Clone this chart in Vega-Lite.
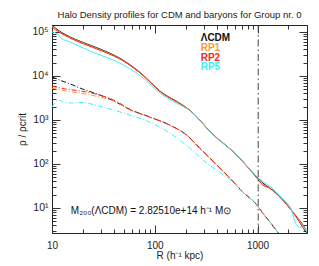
{
  "$schema": "https://vega.github.io/schema/vega-lite/v6.json",
  "width": 255,
  "height": 208,
  "autosize": "none",
  "padding": {"left": 52, "top": 25, "right": 12, "bottom": 33},
  "config": {
    "view": {"stroke": "#222", "strokeWidth": 1},
    "font": "Liberation Sans",
    "axis": {"grid": false, "domain": false, "tickColor": "#333", "labelColor": "#222", "titleColor": "#222", "labelFont": "Liberation Sans", "titleFont": "Liberation Sans", "titleFontWeight": "normal", "labelFlush": false, "labelOverlap": false}
  },
  "title": {"text": "Halo Density profiles for CDM and baryons for Group nr. 0", "fontSize": 9.5, "fontWeight": "normal", "color": "#222", "font": "Liberation Sans", "offset": 5, "anchor": "middle"},
  "datasets": {
    "prof": [
      {"s":"ΛCDM","k":"tot","x":10,"y":144000},{"s":"ΛCDM","k":"tot","x":10.8,"y":123000},{"s":"ΛCDM","k":"tot","x":11.8,"y":105000},{"s":"ΛCDM","k":"tot","x":13.2,"y":90000},{"s":"ΛCDM","k":"tot","x":16.6,"y":69000},{"s":"ΛCDM","k":"tot","x":24.7,"y":48000},{"s":"ΛCDM","k":"tot","x":36.2,"y":33300},{"s":"ΛCDM","k":"tot","x":45.4,"y":25600},{"s":"ΛCDM","k":"tot","x":71.1,"y":12300},{"s":"ΛCDM","k":"tot","x":119,"y":4100},{"s":"ΛCDM","k":"tot","x":167,"y":2570},{"s":"ΛCDM","k":"tot","x":218,"y":1690},{"s":"ΛCDM","k":"tot","x":366,"y":481},{"s":"ΛCDM","k":"tot","x":628,"y":160},{"s":"ΛCDM","k":"tot","x":984,"y":50.7},{"s":"ΛCDM","k":"tot","x":1120,"y":37},{"s":"ΛCDM","k":"tot","x":1318,"y":28.5},{"s":"ΛCDM","k":"tot","x":1766,"y":15.2},{"s":"ΛCDM","k":"tot","x":2420,"y":5.9},{"s":"ΛCDM","k":"tot","x":2958,"y":2.85},{"s":"ΛCDM","k":"tot","x":3100,"y":2.5},
      {"s":"ΛCDM","k":"bar","x":10,"y":9500},{"s":"ΛCDM","k":"bar","x":12,"y":8000},{"s":"ΛCDM","k":"bar","x":15,"y":6600},{"s":"ΛCDM","k":"bar","x":20,"y":5000},{"s":"ΛCDM","k":"bar","x":25,"y":4200},{"s":"ΛCDM","k":"bar","x":30,"y":3600},{"s":"ΛCDM","k":"bar","x":40,"y":2700},{"s":"ΛCDM","k":"bar","x":56.8,"y":1750},{"s":"ΛCDM","k":"bar","x":89,"y":1170},{"s":"ΛCDM","k":"bar","x":139,"y":770},{"s":"ΛCDM","k":"bar","x":204,"y":455},{"s":"ΛCDM","k":"bar","x":273,"y":231},{"s":"ΛCDM","k":"bar","x":401,"y":95},{"s":"ΛCDM","k":"bar","x":537,"y":48},{"s":"ΛCDM","k":"bar","x":720,"y":23},{"s":"ΛCDM","k":"bar","x":985,"y":11.7},{"s":"ΛCDM","k":"bar","x":1120,"y":7.7},{"s":"ΛCDM","k":"bar","x":1300,"y":5.0},{"s":"ΛCDM","k":"bar","x":1600,"y":2.7},{"s":"ΛCDM","k":"bar","x":1700,"y":2.3},
      {"s":"RP1","k":"tot","x":10,"y":137000},{"s":"RP1","k":"tot","x":10.8,"y":118000},{"s":"RP1","k":"tot","x":11.8,"y":101000},{"s":"RP1","k":"tot","x":13.2,"y":87000},{"s":"RP1","k":"tot","x":16.6,"y":67000},{"s":"RP1","k":"tot","x":24.7,"y":46500},{"s":"RP1","k":"tot","x":36.2,"y":32300},{"s":"RP1","k":"tot","x":45.4,"y":25000},{"s":"RP1","k":"tot","x":71.1,"y":12100},{"s":"RP1","k":"tot","x":119,"y":4050},{"s":"RP1","k":"tot","x":167,"y":2550},{"s":"RP1","k":"tot","x":218,"y":1680},{"s":"RP1","k":"tot","x":366,"y":476},{"s":"RP1","k":"tot","x":628,"y":159},{"s":"RP1","k":"tot","x":984,"y":49.5},{"s":"RP1","k":"tot","x":1120,"y":35},{"s":"RP1","k":"tot","x":1318,"y":28.2},{"s":"RP1","k":"tot","x":1766,"y":15.1},{"s":"RP1","k":"tot","x":2420,"y":6.0},{"s":"RP1","k":"tot","x":3100,"y":2.6},
      {"s":"RP1","k":"bar","x":10,"y":5300},{"s":"RP1","k":"bar","x":13.4,"y":4600},{"s":"RP1","k":"bar","x":18.7,"y":4100},{"s":"RP1","k":"bar","x":29,"y":3330},{"s":"RP1","k":"bar","x":43,"y":2500},{"s":"RP1","k":"bar","x":56.8,"y":1720},{"s":"RP1","k":"bar","x":89,"y":1170},{"s":"RP1","k":"bar","x":139,"y":770},{"s":"RP1","k":"bar","x":204,"y":455},{"s":"RP1","k":"bar","x":273,"y":231},{"s":"RP1","k":"bar","x":401,"y":95},{"s":"RP1","k":"bar","x":537,"y":48},{"s":"RP1","k":"bar","x":720,"y":23},{"s":"RP1","k":"bar","x":985,"y":11.7},{"s":"RP1","k":"bar","x":1120,"y":7.7},{"s":"RP1","k":"bar","x":1300,"y":5.0},{"s":"RP1","k":"bar","x":1600,"y":2.7},{"s":"RP1","k":"bar","x":1700,"y":2.3},
      {"s":"RP2","k":"tot","x":10,"y":130000},{"s":"RP2","k":"tot","x":10.8,"y":112000},{"s":"RP2","k":"tot","x":11.8,"y":98000},{"s":"RP2","k":"tot","x":13.2,"y":85000},{"s":"RP2","k":"tot","x":16.6,"y":65000},{"s":"RP2","k":"tot","x":24.7,"y":45000},{"s":"RP2","k":"tot","x":36.2,"y":31500},{"s":"RP2","k":"tot","x":45.4,"y":24500},{"s":"RP2","k":"tot","x":71.1,"y":12000},{"s":"RP2","k":"tot","x":119,"y":4000},{"s":"RP2","k":"tot","x":167,"y":2500},{"s":"RP2","k":"tot","x":218,"y":1670},{"s":"RP2","k":"tot","x":366,"y":470},{"s":"RP2","k":"tot","x":628,"y":158},{"s":"RP2","k":"tot","x":984,"y":48},{"s":"RP2","k":"tot","x":1120,"y":33.4},{"s":"RP2","k":"tot","x":1318,"y":28},{"s":"RP2","k":"tot","x":1766,"y":15},{"s":"RP2","k":"tot","x":2420,"y":6.2},{"s":"RP2","k":"tot","x":2800,"y":4.0},{"s":"RP2","k":"tot","x":3100,"y":2.6},
      {"s":"RP2","k":"bar","x":10,"y":5900},{"s":"RP2","k":"bar","x":13.4,"y":5070},{"s":"RP2","k":"bar","x":18.7,"y":4570},{"s":"RP2","k":"bar","x":29,"y":3700},{"s":"RP2","k":"bar","x":43,"y":2600},{"s":"RP2","k":"bar","x":56.8,"y":1750},{"s":"RP2","k":"bar","x":89,"y":1170},{"s":"RP2","k":"bar","x":139,"y":770},{"s":"RP2","k":"bar","x":204,"y":455},{"s":"RP2","k":"bar","x":273,"y":231},{"s":"RP2","k":"bar","x":401,"y":95},{"s":"RP2","k":"bar","x":537,"y":48},{"s":"RP2","k":"bar","x":720,"y":23},{"s":"RP2","k":"bar","x":985,"y":11.7},{"s":"RP2","k":"bar","x":1120,"y":7.7},{"s":"RP2","k":"bar","x":1300,"y":5.0},{"s":"RP2","k":"bar","x":1600,"y":2.7},{"s":"RP2","k":"bar","x":1700,"y":2.3},
      {"s":"RP5","k":"tot","x":10,"y":100000},{"s":"RP5","k":"tot","x":10.8,"y":96000},{"s":"RP5","k":"tot","x":11.8,"y":82000},{"s":"RP5","k":"tot","x":12.5,"y":69000},{"s":"RP5","k":"tot","x":14,"y":63000},{"s":"RP5","k":"tot","x":16.6,"y":53000},{"s":"RP5","k":"tot","x":24.7,"y":35000},{"s":"RP5","k":"tot","x":45.4,"y":19700},{"s":"RP5","k":"tot","x":71.1,"y":10500},{"s":"RP5","k":"tot","x":119,"y":3700},{"s":"RP5","k":"tot","x":167,"y":2350},{"s":"RP5","k":"tot","x":218,"y":1650},{"s":"RP5","k":"tot","x":366,"y":470},{"s":"RP5","k":"tot","x":628,"y":160},{"s":"RP5","k":"tot","x":984,"y":52},{"s":"RP5","k":"tot","x":1120,"y":40},{"s":"RP5","k":"tot","x":1318,"y":31},{"s":"RP5","k":"tot","x":1766,"y":16},{"s":"RP5","k":"tot","x":2100,"y":10},{"s":"RP5","k":"tot","x":2420,"y":4.0},{"s":"RP5","k":"tot","x":2700,"y":3.6},{"s":"RP5","k":"tot","x":2900,"y":3.4},{"s":"RP5","k":"tot","x":3100,"y":2.5},
      {"s":"RP5","k":"bar","x":10,"y":1970},{"s":"RP5","k":"bar","x":11.8,"y":2830},{"s":"RP5","k":"bar","x":13,"y":2500},{"s":"RP5","k":"bar","x":15.7,"y":2430},{"s":"RP5","k":"bar","x":20,"y":2500},{"s":"RP5","k":"bar","x":25,"y":2250},{"s":"RP5","k":"bar","x":33.8,"y":1870},{"s":"RP5","k":"bar","x":56.8,"y":1300},{"s":"RP5","k":"bar","x":89,"y":900},{"s":"RP5","k":"bar","x":139,"y":507},{"s":"RP5","k":"bar","x":219,"y":230},{"s":"RP5","k":"bar","x":320,"y":105},{"s":"RP5","k":"bar","x":426,"y":66},{"s":"RP5","k":"bar","x":537,"y":45},{"s":"RP5","k":"bar","x":720,"y":23},{"s":"RP5","k":"bar","x":985,"y":11.7},{"s":"RP5","k":"bar","x":1120,"y":7.7},{"s":"RP5","k":"bar","x":1300,"y":5.0},{"s":"RP5","k":"bar","x":1600,"y":2.7},{"s":"RP5","k":"bar","x":1700,"y":2.3}
    ],
    "leg": [
      {"s":"ΛCDM","x":280,"y":72000,"i":0},
      {"s":"RP1","x":280,"y":43000,"i":1},
      {"s":"RP2","x":280,"y":26000,"i":2},
      {"s":"RP5","x":280,"y":15600,"i":3}
    ],
    "ann": [{"t":"M₂₀₀(ΛCDM) = 2.82510e+14 h⁻¹ M⊙","x":92,"y":8.5}],
    "r200": [{"x":1015}]
  },
  "layer": [
    {
      "data": {"name": "prof"},
      "transform": [{"filter": "datum.k == 'tot'"}],
      "mark": {"type": "line", "interpolate": "monotone", "strokeWidth": 1, "clip": true},
      "encoding": {
        "x": {"field": "x", "type": "quantitative", "scale": {"type": "log", "domain": [10, 3030], "nice": false},
              "axis": {"orient": "bottom", "values": [10, 100, 1000], "format": "d", "ticks": false, "labelFontSize": 10, "labelPadding": 7, "title": "R (h⁻¹ kpc)", "titleFontSize": 10, "titlePadding": 0}},
        "y": {"field": "y", "type": "quantitative", "scale": {"type": "log", "domain": [2.7, 144000], "nice": false},
              "axis": {"orient": "left", "values": [10, 100, 1000, 10000, 100000], "ticks": false, "labelFontSize": 10.5, "labelPadding": 4,
                       "labelExpr": "'10' + (datum.value == 10 ? '¹' : datum.value == 100 ? '²' : datum.value == 1000 ? '³' : datum.value == 10000 ? '⁴' : '⁵')",
                       "title": "ρ / ρcrit", "titleFontSize": 10, "titlePadding": 4}},
        "color": {"field": "s", "type": "nominal", "scale": {"domain": ["ΛCDM", "RP1", "RP2", "RP5"], "range": ["#111111", "#ff9933", "#ff2222", "#40f0f0"]}, "legend": null}
      }
    },
    {
      "data": {"name": "prof"},
      "transform": [{"filter": "datum.k == 'bar'"}],
      "mark": {"type": "line", "interpolate": "monotone", "strokeWidth": 1, "strokeDash": [5, 2, 1, 2], "clip": true},
      "encoding": {
        "x": {"field": "x", "type": "quantitative", "axis": {"orient": "bottom", "values": [10, 100, 1000], "labels": false, "tickSize": -8, "title": null}},
        "y": {"field": "y", "type": "quantitative", "axis": {"orient": "left", "values": [10, 100, 1000, 10000, 100000], "labels": false, "tickSize": -8, "title": null}},
        "color": {"field": "s", "type": "nominal", "legend": null}
      }
    },
    {
      "data": {"name": "r200"},
      "mark": {"type": "rule", "color": "#444", "strokeWidth": 1, "strokeDash": [7, 3, 1.5, 3]},
      "encoding": {"x": {"field": "x", "type": "quantitative", "axis": null}}
    },
    {
      "data": {"name": "leg"},
      "transform": [{"filter": "datum.i == 0"}],
      "mark": {"type": "text", "align": "left", "baseline": "middle", "fontSize": 10, "fontWeight": "bold", "font": "Liberation Sans"},
      "encoding": {
        "x": {"field": "x", "type": "quantitative", "axis": {"orient": "bottom", "values": [20,30,40,50,60,70,80,90,200,300,400,500,600,700,800,900,2000,3000], "labels": false, "tickSize": -4, "title": null}},
        "y": {"field": "y", "type": "quantitative", "axis": {"orient": "left", "values": [3,4,5,6,7,8,9,20,30,40,50,60,70,80,90,200,300,400,500,600,700,800,900,2000,3000,4000,5000,6000,7000,8000,9000,20000,30000,40000,50000,60000,70000,80000,90000], "labels": false, "tickSize": -4, "title": null}},
        "text": {"field": "s"},
        "color": {"field": "s", "type": "nominal", "legend": null}
      }
    },
    {
      "data": {"name": "leg"},
      "transform": [{"filter": "datum.i > 0"}],
      "mark": {"type": "text", "align": "left", "baseline": "middle", "fontSize": 10, "fontWeight": "bold", "font": "Liberation Sans"},
      "encoding": {
        "x": {"field": "x", "type": "quantitative", "axis": {"orient": "top", "values": [10, 100, 1000], "labels": false, "tickSize": -8, "title": null}},
        "y": {"field": "y", "type": "quantitative", "axis": {"orient": "right", "values": [10, 100, 1000, 10000, 100000], "labels": false, "tickSize": -8, "title": null}},
        "text": {"field": "s"},
        "color": {"field": "s", "type": "nominal", "legend": null}
      }
    },
    {
      "data": {"name": "ann"},
      "mark": {"type": "text", "align": "center", "baseline": "middle", "fontSize": 10, "color": "#111", "font": "Liberation Sans"},
      "encoding": {
        "x": {"field": "x", "type": "quantitative", "axis": {"orient": "top", "values": [20,30,40,50,60,70,80,90,200,300,400,500,600,700,800,900,2000,3000], "labels": false, "tickSize": -4, "title": null}},
        "y": {"field": "y", "type": "quantitative", "axis": {"orient": "right", "values": [3,4,5,6,7,8,9,20,30,40,50,60,70,80,90,200,300,400,500,600,700,800,900,2000,3000,4000,5000,6000,7000,8000,9000,20000,30000,40000,50000,60000,70000,80000,90000], "labels": false, "tickSize": -4, "title": null}},
        "text": {"field": "t"}
      }
    }
  ],
  "resolve": {"axis": {"x": "independent", "y": "independent"}}
}
